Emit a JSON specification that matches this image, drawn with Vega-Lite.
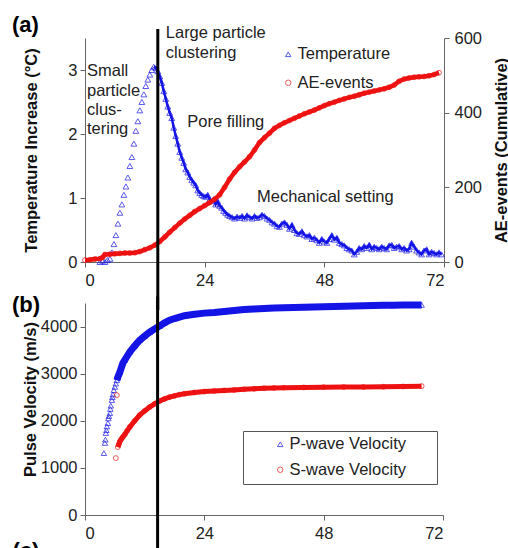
{
  "$schema": "https://vega.github.io/schema/vega-lite/v6.json",
  "autosize": {"type": "none"},
  "padding": {"left": 85, "top": 38, "right": 423, "bottom": 510},
  "background": "white",
  "bounds": "flush",
  "spacing": 41,
  "datasets": {
    "temp": [
      {"h":3.0,"t":0},{"h":3.5,"t":0.02},{"h":4.0,"t":0},{"h":4.5,"t":0.03},{"h":5.0,"t":0.05},{"h":5.4,"t":0.15},{"h":5.8,"t":0.28},{"h":6.2,"t":0.42},{"h":6.6,"t":0.6},{"h":7.0,"t":0.77},{"h":7.4,"t":0.9},{"h":7.8,"t":1.05},{"h":8.2,"t":1.18},{"h":8.6,"t":1.32},{"h":9.0,"t":1.5},{"h":9.4,"t":1.64},{"h":9.8,"t":1.85},{"h":10.2,"t":2.05},{"h":10.6,"t":2.2},{"h":11.0,"t":2.37},{"h":11.4,"t":2.5},{"h":11.8,"t":2.62},{"h":12.2,"t":2.75},{"h":12.6,"t":2.85},{"h":13.0,"t":2.93},{"h":13.4,"t":3.0},{"h":13.8,"t":3.05},{"h":14.2,"t":3.03},{"h":14.6,"t":2.98},{"h":15.0,"t":2.9},{"h":15.4,"t":2.8},{"h":15.8,"t":2.67},{"h":16.2,"t":2.55},{"h":16.6,"t":2.43},{"h":17.0,"t":2.33},{"h":17.4,"t":2.25},{"h":17.8,"t":2.1},{"h":18.2,"t":1.97},{"h":18.6,"t":1.85},{"h":19.0,"t":1.72},{"h":19.4,"t":1.63},{"h":19.8,"t":1.55},{"h":20.2,"t":1.45},{"h":20.6,"t":1.4},{"h":21.0,"t":1.33},{"h":21.4,"t":1.28},{"h":21.8,"t":1.24},{"h":22.2,"t":1.2},{"h":22.6,"t":1.12},{"h":23.0,"t":1.08},{"h":23.4,"t":1.05},{"h":23.8,"t":1.03},{"h":24.2,"t":1.02},{"h":24.6,"t":1.05},{"h":25.0,"t":0.98},{"h":25.4,"t":0.95},{"h":25.8,"t":0.98},{"h":26.2,"t":0.9},{"h":26.6,"t":0.95},{"h":27.0,"t":0.88},{"h":27.4,"t":0.85},{"h":27.8,"t":0.8},{"h":28.2,"t":0.77},{"h":28.6,"t":0.74},{"h":29.0,"t":0.72},{"h":29.5,"t":0.7},{"h":30.0,"t":0.68},{"h":30.5,"t":0.71},{"h":31.0,"t":0.69},{"h":31.5,"t":0.72},{"h":32.0,"t":0.68},{"h":32.5,"t":0.73},{"h":33.0,"t":0.7},{"h":33.5,"t":0.68},{"h":34.0,"t":0.72},{"h":34.5,"t":0.69},{"h":35.0,"t":0.7},{"h":35.5,"t":0.74},{"h":36.0,"t":0.72},{"h":36.5,"t":0.68},{"h":37.0,"t":0.66},{"h":37.5,"t":0.62},{"h":38.0,"t":0.6},{"h":38.5,"t":0.56},{"h":39.0,"t":0.55},{"h":39.5,"t":0.6},{"h":40.0,"t":0.62},{"h":40.5,"t":0.58},{"h":41.0,"t":0.52},{"h":41.5,"t":0.58},{"h":42.0,"t":0.5},{"h":42.5,"t":0.45},{"h":43.0,"t":0.44},{"h":43.5,"t":0.48},{"h":44.0,"t":0.42},{"h":44.5,"t":0.4},{"h":45.0,"t":0.42},{"h":45.5,"t":0.36},{"h":46.0,"t":0.38},{"h":46.5,"t":0.34},{"h":47.0,"t":0.3},{"h":47.5,"t":0.36},{"h":48.0,"t":0.32},{"h":48.5,"t":0.3},{"h":49.0,"t":0.36},{"h":49.5,"t":0.42},{"h":50.0,"t":0.35},{"h":50.5,"t":0.38},{"h":51.0,"t":0.3},{"h":51.5,"t":0.28},{"h":52.0,"t":0.26},{"h":52.5,"t":0.22},{"h":53.0,"t":0.2},{"h":53.5,"t":0.18},{"h":54.0,"t":0.12},{"h":54.5,"t":0.16},{"h":55.0,"t":0.22},{"h":55.5,"t":0.2},{"h":56.0,"t":0.25},{"h":56.5,"t":0.22},{"h":57.0,"t":0.27},{"h":57.5,"t":0.2},{"h":58.0,"t":0.24},{"h":58.5,"t":0.22},{"h":59.0,"t":0.2},{"h":59.5,"t":0.24},{"h":60.0,"t":0.22},{"h":60.5,"t":0.2},{"h":61.0,"t":0.26},{"h":61.5,"t":0.27},{"h":62.0,"t":0.22},{"h":62.5,"t":0.24},{"h":63.0,"t":0.25},{"h":63.5,"t":0.2},{"h":64.0,"t":0.22},{"h":64.5,"t":0.18},{"h":65.0,"t":0.2},{"h":65.5,"t":0.3},{"h":66.0,"t":0.24},{"h":66.5,"t":0.18},{"h":67.0,"t":0.15},{"h":67.5,"t":0.12},{"h":68.0,"t":0.18},{"h":68.5,"t":0.2},{"h":69.0,"t":0.12},{"h":69.5,"t":0.16},{"h":70.0,"t":0.14},{"h":70.5,"t":0.12},{"h":71.0,"t":0.15},{"h":71.5,"t":0.12}
    ],
    "ae": [
      {"h":0,"e":5},{"h":1,"e":6},{"h":2,"e":8},{"h":3,"e":9},{"h":3.5,"e":12},{"h":4,"e":20},{"h":5,"e":21},{"h":6,"e":22},{"h":7,"e":23},{"h":8,"e":24},{"h":9,"e":24},{"h":10,"e":25},{"h":11,"e":28},{"h":12,"e":33},{"h":13,"e":38},{"h":14,"e":45},{"h":15,"e":55},{"h":16,"e":67},{"h":17,"e":80},{"h":18,"e":92},{"h":19,"e":104},{"h":20,"e":115},{"h":21,"e":125},{"h":22,"e":135},{"h":23,"e":143},{"h":24,"e":151},{"h":25,"e":159},{"h":26,"e":168},{"h":27,"e":180},{"h":28,"e":200},{"h":29,"e":222},{"h":30,"e":240},{"h":31,"e":255},{"h":32,"e":268},{"h":33,"e":282},{"h":34,"e":300},{"h":35,"e":320},{"h":36,"e":333},{"h":37,"e":345},{"h":38,"e":358},{"h":39,"e":366},{"h":40,"e":373},{"h":41,"e":379},{"h":42,"e":385},{"h":43,"e":391},{"h":44,"e":397},{"h":45,"e":402},{"h":46,"e":407},{"h":47,"e":413},{"h":48,"e":419},{"h":49,"e":424},{"h":50,"e":428},{"h":51,"e":433},{"h":52,"e":437},{"h":53,"e":441},{"h":54,"e":444},{"h":55,"e":448},{"h":56,"e":452},{"h":57,"e":455},{"h":58,"e":458},{"h":59,"e":461},{"h":60,"e":464},{"h":61,"e":468},{"h":62,"e":474},{"h":63,"e":484},{"h":64,"e":490},{"h":65,"e":493},{"h":66,"e":495},{"h":67,"e":496},{"h":68,"e":497},{"h":69,"e":499},{"h":70,"e":502},{"h":71,"e":507}
    ],
    "pwave": [
      {"h":3.8,"v":1314},{"h":4.0,"v":1530},{"h":4.1,"v":1600},{"h":4.2,"v":1740},{"h":4.3,"v":1800},{"h":4.4,"v":1880},{"h":4.6,"v":1950},{"h":4.7,"v":2050},{"h":4.8,"v":2100},{"h":5.0,"v":2160},{"h":5.1,"v":2250},{"h":5.2,"v":2320},{"h":5.4,"v":2440},{"h":5.5,"v":2500},{"h":5.6,"v":2560},{"h":5.8,"v":2650},{"h":6.0,"v":2720},{"h":6.2,"v":2790},{"h":6.4,"v":2860},{"h":6.6,"v":2925},{"h":7,"v":3030},{"h":7.6,"v":3220},{"h":8,"v":3290},{"h":9,"v":3460},{"h":10,"v":3590},{"h":11,"v":3710},{"h":12,"v":3800},{"h":13,"v":3880},{"h":14,"v":3950},{"h":15,"v":4010},{"h":16,"v":4080},{"h":17,"v":4134},{"h":18,"v":4170},{"h":19,"v":4200},{"h":20,"v":4230},{"h":22,"v":4260},{"h":24,"v":4285},{"h":26,"v":4300},{"h":28,"v":4320},{"h":30,"v":4340},{"h":32,"v":4360},{"h":34,"v":4375},{"h":36,"v":4385},{"h":38,"v":4395},{"h":40,"v":4400},{"h":42,"v":4405},{"h":44,"v":4410},{"h":46,"v":4415},{"h":48,"v":4420},{"h":50,"v":4425},{"h":52,"v":4430},{"h":54,"v":4438},{"h":56,"v":4442},{"h":58,"v":4448},{"h":60,"v":4450},{"h":62,"v":4452},{"h":64,"v":4455},{"h":66,"v":4458},{"h":67.7,"v":4460}
    ],
    "swave": [
      {"h":6.2,"v":1208},{"h":6.4,"v":2544},{"h":6.6,"v":1442},{"h":6.8,"v":1500},{"h":7.0,"v":1560},{"h":7.3,"v":1610},{"h":7.6,"v":1654},{"h":8,"v":1710},{"h":8.5,"v":1790},{"h":9,"v":1866},{"h":10,"v":2000},{"h":11,"v":2120},{"h":12,"v":2210},{"h":13,"v":2290},{"h":14,"v":2360},{"h":15,"v":2420},{"h":16,"v":2465},{"h":17,"v":2502},{"h":18,"v":2530},{"h":19,"v":2555},{"h":20,"v":2575},{"h":22,"v":2600},{"h":24,"v":2620},{"h":26,"v":2632},{"h":28,"v":2645},{"h":30,"v":2655},{"h":32,"v":2668},{"h":34,"v":2680},{"h":36,"v":2690},{"h":38,"v":2697},{"h":40,"v":2702},{"h":44,"v":2708},{"h":48,"v":2714},{"h":52,"v":2716},{"h":56,"v":2718},{"h":60,"v":2722},{"h":64,"v":2728},{"h":67.7,"v":2735}
    ],
    "notesA": [
      {"h":16.2,"t":3.58,"label":"Large particle"},
      {"h":16.2,"t":3.27,"label":"clustering"},
      {"h":0.4,"t":2.98,"label":"Small"},
      {"h":0.4,"t":2.67,"label":"particle"},
      {"h":0.4,"t":2.37,"label":"clus-"},
      {"h":0.4,"t":2.08,"label":"tering"},
      {"h":20.5,"t":2.19,"label":"Pore filling"},
      {"h":34.5,"t":1.02,"label":"Mechanical setting"}
    ]
  },
  "resolve": {"scale": {"color": "independent", "shape": "independent"}, "legend": {"color": "independent", "shape": "independent"}},
  "vconcat": [
    {
      "width": 359,
      "height": 224,
      "title": {"text": "(a)", "anchor": "start", "frame": "group", "dx": -73, "dy": 29, "offset": 0, "fontSize": 22, "fontWeight": "bold", "color": "#000", "font": "Liberation Sans", "baseline": "alphabetic"},
      "resolve": {"scale": {"y": "independent"}, "axis": {"y": "independent"}},
      "layer": [
        {
          "data": {"name": "temp"},
          "transform": [{"filter": "datum.h >= 13.8"}],
          "mark": {"type": "line", "color": "#1414e6", "strokeWidth": 2.5},
          "encoding": {
            "x": {"field": "h", "type": "quantitative", "scale": {"domain": [0, 72], "nice": false}, "axis": {"values": [0, 24, 48, 72], "title": null}},
            "y": {"field": "t", "type": "quantitative", "scale": {"domain": [0, 3.5], "nice": false}, "axis": {"values": [0, 1, 2, 3], "title": "Temperature Increase (°C)", "titleX": -54, "titleY": 112, "titleAngle": 270, "titleAlign": "center", "titleBaseline": "middle"}}
          }
        },
        {
          "data": {"name": "temp"},
          "transform": [{"calculate": "'Temperature'", "as": "series"}],
          "mark": {"type": "point", "filled": false, "strokeWidth": 1, "size": 34},
          "encoding": {
            "x": {"field": "h", "type": "quantitative", "scale": {"domain": [0, 72], "nice": false}},
            "y": {"field": "t", "type": "quantitative", "scale": {"domain": [0, 3.5], "nice": false}, "axis": null},
            "color": {"field": "series", "type": "nominal", "scale": {"domain": ["Temperature", "AE-events"], "range": ["#1414e6", "#ee1111"]}, "legend": {"orient": "none", "legendX": 195, "legendY": 8, "title": null, "padding": 0, "rowPadding": 11.5, "labelOffset": 1, "labelFontSize": 16.5, "labelColor": "#222", "symbolSize": 30, "symbolStrokeWidth": 1}},
            "shape": {"field": "series", "type": "nominal", "scale": {"domain": ["Temperature", "AE-events"], "range": ["triangle-up", "circle"]}, "legend": {"orient": "none", "legendX": 195, "legendY": 8, "title": null}}
          }
        },
        {
          "data": {"name": "ae"},
          "mark": {"type": "line", "color": "#ee1111", "strokeWidth": 4.5},
          "encoding": {
            "x": {"field": "h", "type": "quantitative", "scale": {"domain": [0, 72], "nice": false}},
            "y": {"field": "e", "type": "quantitative", "scale": {"domain": [0, 600], "nice": false}, "axis": {"orient": "right", "values": [0, 200, 400, 600], "labelPadding": 5, "title": "AE-events (Cumulative)", "titleX": 57, "titleY": 112, "titleAngle": 270, "titleAlign": "center", "titleBaseline": "middle"}}
          }
        },
        {
          "data": {"name": "ae"},
          "transform": [{"calculate": "'AE-events'", "as": "series"}],
          "mark": {"type": "point", "filled": false, "strokeWidth": 1, "size": 24},
          "encoding": {
            "x": {"field": "h", "type": "quantitative", "scale": {"domain": [0, 72], "nice": false}},
            "y": {"field": "e", "type": "quantitative", "scale": {"domain": [0, 600], "nice": false}, "axis": null},
            "color": {"field": "series", "type": "nominal"},
            "shape": {"field": "series", "type": "nominal"}
          }
        },
        {
          "data": {"values": [{"h": 14.6, "top": 3.64, "bottom": -0.75}]},
          "mark": {"type": "rule", "color": "#000", "strokeWidth": 3},
          "encoding": {
            "x": {"field": "h", "type": "quantitative", "scale": {"domain": [0, 72], "nice": false}},
            "y": {"field": "top", "type": "quantitative", "scale": {"domain": [0, 3.5], "nice": false}, "axis": null},
            "y2": {"field": "bottom"}
          }
        },
        {
          "data": {"name": "notesA"},
          "mark": {"type": "text", "align": "left", "baseline": "middle", "fontSize": 16.5, "color": "#222", "font": "Liberation Sans"},
          "encoding": {
            "x": {"field": "h", "type": "quantitative", "scale": {"domain": [0, 72], "nice": false}},
            "y": {"field": "t", "type": "quantitative", "scale": {"domain": [0, 3.5], "nice": false}, "axis": null},
            "text": {"field": "label"}
          }
        }
      ]
    },
    {
      "width": 358,
      "height": 212,
      "title": {"text": "(b)", "anchor": "start", "frame": "group", "dx": -73, "dy": 43, "offset": 0, "fontSize": 22, "fontWeight": "bold", "color": "#000", "font": "Liberation Sans", "baseline": "alphabetic"},
      "layer": [
        {
          "data": {"name": "pwave"},
          "transform": [{"filter": "datum.h >= 6.4"}],
          "mark": {"type": "line", "color": "#1414e6", "strokeWidth": 7},
          "encoding": {
            "x": {"field": "h", "type": "quantitative", "scale": {"domain": [0, 72], "nice": false}, "axis": {"values": [0, 24, 48, 72], "title": null}},
            "y": {"field": "v", "type": "quantitative", "scale": {"domain": [0, 4500], "nice": false}, "axis": {"values": [0, 1000, 2000, 3000, 4000], "format": "d", "title": "Pulse Velocity (m/s)", "titleX": -55, "titleY": 96, "titleAngle": 270, "titleAlign": "center", "titleBaseline": "middle"}}
          }
        },
        {
          "data": {"name": "pwave"},
          "transform": [{"calculate": "'P-wave Velocity'", "as": "series"}],
          "mark": {"type": "point", "filled": false, "strokeWidth": 1, "size": 30},
          "encoding": {
            "x": {"field": "h", "type": "quantitative"},
            "y": {"field": "v", "type": "quantitative"},
            "color": {"field": "series", "type": "nominal", "scale": {"domain": ["P-wave Velocity", "S-wave Velocity"], "range": ["#1414e6", "#ee1111"]}, "legend": {"orient": "none", "legendX": 158, "legendY": 128, "title": "\u00a0", "titleOrient": "right", "titlePadding": 26, "titleFontSize": 10, "padding": 5, "rowPadding": 8.5, "symbolOffset": 24, "labelOffset": 1, "labelFontSize": 16.5, "labelColor": "#222", "labelLimit": 400, "strokeColor": "#555", "fillColor": "white", "symbolSize": 30, "symbolStrokeWidth": 1}},
            "shape": {"field": "series", "type": "nominal", "scale": {"domain": ["P-wave Velocity", "S-wave Velocity"], "range": ["triangle-up", "circle"]}, "legend": {"orient": "none", "legendX": 158, "legendY": 128, "title": "\u00a0"}}
          }
        },
        {
          "data": {"name": "swave"},
          "transform": [{"filter": "datum.h >= 6.6"}],
          "mark": {"type": "line", "color": "#ee1111", "strokeWidth": 5},
          "encoding": {
            "x": {"field": "h", "type": "quantitative"},
            "y": {"field": "v", "type": "quantitative"}
          }
        },
        {
          "data": {"name": "swave"},
          "transform": [{"calculate": "'S-wave Velocity'", "as": "series"}],
          "mark": {"type": "point", "filled": false, "strokeWidth": 1, "size": 24},
          "encoding": {
            "x": {"field": "h", "type": "quantitative"},
            "y": {"field": "v", "type": "quantitative"},
            "color": {"field": "series", "type": "nominal"},
            "shape": {"field": "series", "type": "nominal"}
          }
        },
        {
          "data": {"values": [{"h": 14.6, "top": 4640, "bottom": -900}]},
          "mark": {"type": "rule", "color": "#000", "strokeWidth": 3},
          "encoding": {
            "x": {"field": "h", "type": "quantitative"},
            "y": {"field": "top", "type": "quantitative"},
            "y2": {"field": "bottom"}
          }
        },
        {
          "data": {"values": [{"h": -14.6, "v": -560, "label": "(c)"}]},
          "mark": {"type": "text", "align": "left", "baseline": "top", "fontSize": 22, "fontWeight": "bold", "color": "#000", "font": "Liberation Sans"},
          "encoding": {
            "x": {"field": "h", "type": "quantitative"},
            "y": {"field": "v", "type": "quantitative"},
            "text": {"field": "label"}
          }
        }
      ]
    }
  ],
  "config": {
    "font": "Liberation Sans",
    "view": {"stroke": null},
    "axis": {"domainColor": "#666", "tickColor": "#666", "labelColor": "#222", "labelFont": "Liberation Sans", "labelFontSize": 16.5, "titleFont": "Liberation Sans", "titleFontSize": 16.5, "titleFontWeight": "bold", "titleColor": "#111", "grid": false, "tickSize": 5},
    "axisY": {"labelPadding": 3},
    "axisX": {"labelPadding": 5},
    "legend": {"labelFont": "Liberation Sans"}
  }
}
